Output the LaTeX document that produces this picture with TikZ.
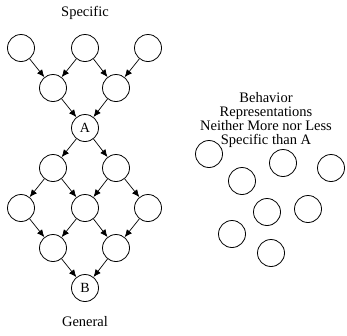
\documentclass[tikz,border=0pt]{standalone}
\usepackage{fontspec}
\setmainfont{Liberation Serif}
\usetikzlibrary{arrows.meta}
\begin{document}
\begin{tikzpicture}[x=1pt,y=-1pt,
  nd/.style={circle,draw,line width=0.8pt,minimum size=27pt,inner sep=0pt,font=\fontsize{14}{15}\selectfont},
  ar/.style={-{Latex[length=7.5pt,width=6.5pt]},line width=0.7pt},
  lbl/.style={font=\fontsize{14.5}{14}\selectfont,align=center}]
\useasboundingbox (0,0) rectangle (347,335);
% left graph
\node[nd] (a1) at (21,48) {};
\node[nd] (a2) at (85,48) {};
\node[nd] (a3) at (148,48) {};
\node[nd] (b1) at (53,88) {};
\node[nd] (b2) at (116,88) {};
\node[nd] (A) at (85,128) {A};
\node[nd] (c1) at (53,168) {};
\node[nd] (c2) at (116,168) {};
\node[nd] (d1) at (21,208) {};
\node[nd] (d2) at (85,208) {};
\node[nd] (d3) at (148,208) {};
\node[nd] (e1) at (53,248) {};
\node[nd] (e2) at (116,248) {};
\node[nd] (B) at (85,288) {B};
\draw[ar] (a1) -- (b1);
\draw[ar] (a2) -- (b1);
\draw[ar] (a2) -- (b2);
\draw[ar] (a3) -- (b2);
\draw[ar] (b1) -- (A);
\draw[ar] (b2) -- (A);
\draw[ar] (A) -- (c1);
\draw[ar] (A) -- (c2);
\draw[ar] (c1) -- (d1);
\draw[ar] (c1) -- (d2);
\draw[ar] (c2) -- (d2);
\draw[ar] (c2) -- (d3);
\draw[ar] (d1) -- (e1);
\draw[ar] (d2) -- (e1);
\draw[ar] (d2) -- (e2);
\draw[ar] (d3) -- (e2);
\draw[ar] (e1) -- (B);
\draw[ar] (e2) -- (B);
\node[lbl] (spec) at (85,13) {Specific};
\node[lbl] (gen) at (85,322) {General};
% right side
\node[lbl] (txt) at (266,120) {Behavior\\Representations\\Neither More nor Less\\Specific than A};
\node[nd] (r1) at (209,154) {};
\node[nd] (r2) at (242,181) {};
\node[nd] (r3) at (283,163) {};
\node[nd] (r4) at (331,168) {};
\node[nd] (r5) at (267,212) {};
\node[nd] (r6) at (308,209) {};
\node[nd] (r7) at (232,234) {};
\node[nd] (r8) at (271,253) {};
\end{tikzpicture}
\end{document}
